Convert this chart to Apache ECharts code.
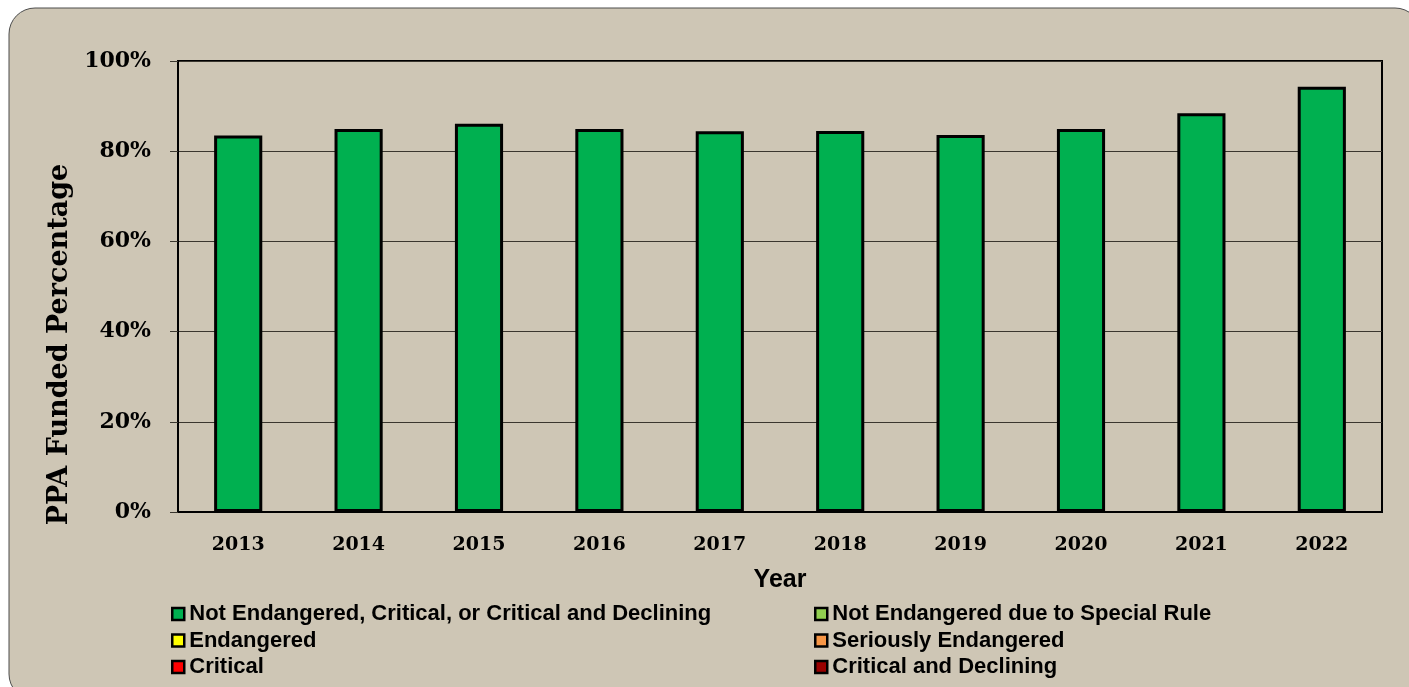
<!DOCTYPE html>
<html>
<head>
<meta charset="utf-8">
<script src="https://cdn.jsdelivr.net/npm/echarts@6/dist/echarts.min.js"></script>
<style>
  html, body { margin: 0; padding: 0; background: #ffffff; }
  #chart { width: 1409px; height: 687px; }
</style>
</head>
<body>
<div id="chart"></div>
<script>
// Plan years on the category axis
const years = ['2013', '2014', '2015', '2016', '2017', '2018', '2019', '2020', '2021', '2022'];

// PPA funded percentage by zone status (only the first status has plans in these years)
const notEndangered = [83.5, 84.9, 86.1, 84.9, 84.4, 84.5, 83.6, 84.9, 88.4, 94.3];
const specialRule = [];
const endangered = [];
const seriouslyEndangered = [];
const critical = [];
const criticalDeclining = [];

// Value-axis tick labels
const yTicks = ['0%', '20%', '40%', '60%', '80%', '100%'];

const statusNames = [
  'Not Endangered, Critical, or Critical and Declining',
  'Not Endangered due to Special Rule',
  'Endangered',
  'Seriously Endangered',
  'Critical',
  'Critical and Declining'
];
const statusColors = ['#00b050', '#92d050', '#ffff00', '#f79646', '#ff0000', '#990000'];
const statusData = [notEndangered, specialRule, endangered, seriouslyEndangered, critical, criticalDeclining];

const chart = echarts.init(document.getElementById('chart'), null, { renderer: 'canvas' });

const series = statusNames.map((name, i) => ({
  name: name,
  type: 'bar',
  stack: 'status',
  barWidth: '40%',
  data: statusData[i],
  itemStyle: { color: statusColors[i], borderColor: '#000000', borderWidth: 3 },
  emphasis: { disabled: true }
}));

const legendText = { fontFamily: 'Liberation Sans, Arial, sans-serif', fontWeight: 'bold', fontSize: 22, color: '#000000', lineHeight: 21 };
const legendBase = {
  orient: 'vertical',
  itemWidth: 12,
  itemHeight: 12,
  itemGap: 4.5,
  icon: 'rect',
  itemStyle: { borderColor: '#000000', borderWidth: 2.5 },
  textStyle: legendText,
  selectedMode: false,
  padding: 0,
  top: 603
};

chart.setOption({
  animation: false,
  backgroundColor: '#ffffff',
  graphic: [{
    type: 'rect',
    z: -10,
    silent: true,
    shape: { x: 9, y: 8, width: 1412, height: 692, r: 26 },
    style: { fill: '#cec6b5', stroke: '#4d4d4d', lineWidth: 1 }
  }],
  grid: {
    left: 178, right: 27, top: 61, bottom: 175,
    show: true, borderColor: '#000000', borderWidth: 2, backgroundColor: 'transparent'
  },
  legend: [
    Object.assign({}, legendBase, { left: 171, data: [statusNames[0], statusNames[2], statusNames[4]] }),
    Object.assign({}, legendBase, { left: 814, data: [statusNames[1], statusNames[3], statusNames[5]] })
  ],
  xAxis: {
    type: 'category',
    data: years,
    name: 'Year',
    nameLocation: 'middle',
    nameGap: 56,
    nameTextStyle: { fontFamily: 'Liberation Sans, Arial, sans-serif', fontWeight: 'bold', fontSize: 25, color: '#000000' },
    axisLine: { show: true, lineStyle: { color: '#000000', width: 2 } },
    axisTick: { show: false },
    axisLabel: { margin: 24, fontFamily: 'DejaVu Serif, serif', fontWeight: 'bold', fontSize: 19, color: '#000000' }
  },
  yAxis: {
    type: 'value',
    min: 0, max: 100, interval: 20,
    name: 'PPA Funded Percentage',
    nameLocation: 'middle',
    nameRotate: 90,
    nameGap: 94,
    nameTextStyle: { fontFamily: 'DejaVu Serif, serif', fontWeight: 'bold', fontSize: 27, color: '#000000', padding: [0, 116, 0, 0] },
    axisLine: { show: true, lineStyle: { color: '#000000', width: 2 } },
    axisTick: { show: true, length: 8, lineStyle: { color: '#3a362e', width: 1 } },
    splitLine: { show: true, lineStyle: { color: '#3a362e', width: 1 } },
    axisLabel: {
      margin: 27,
      fontFamily: 'DejaVu Serif, serif', fontWeight: 'bold', fontSize: 22, color: '#000000',
      formatter: (v) => yTicks[Math.round(v / 20)]
    }
  },
  series: series
});
</script>
</body>
</html>
